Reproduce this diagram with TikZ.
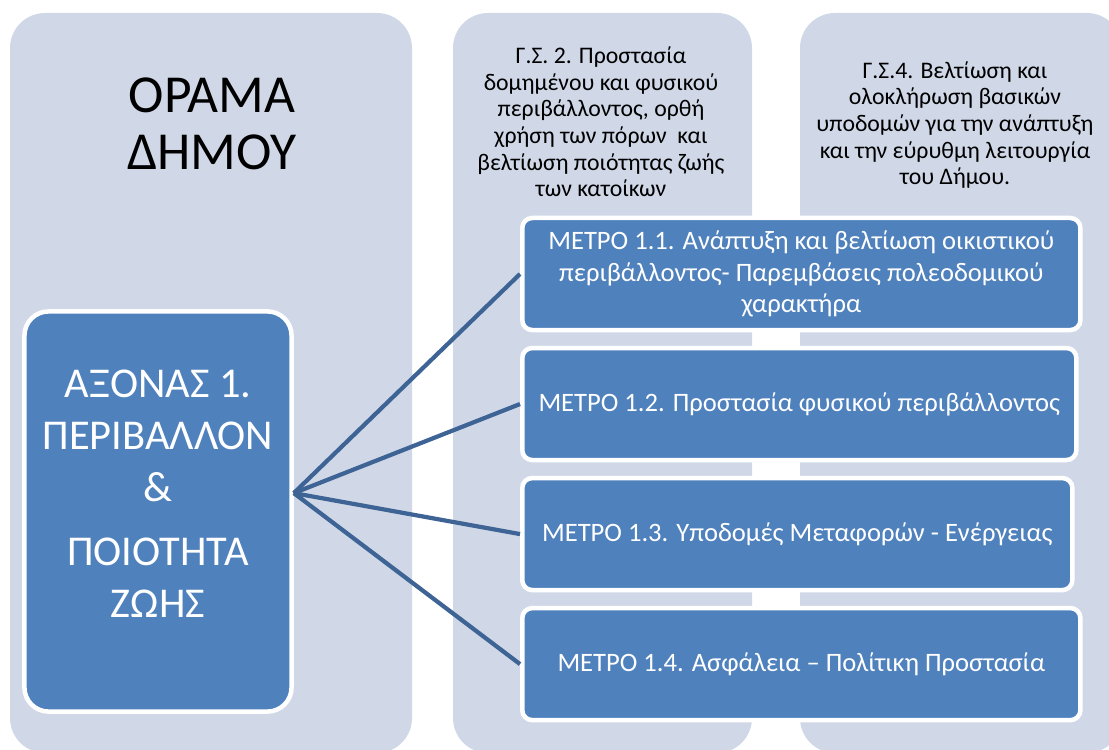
\documentclass[tikz,border=0pt]{standalone}
\usepackage{fontspec}
\setmainfont{Carlito}
\usetikzlibrary{positioning}
\definecolor{panelfill}{RGB}{208,216,232}
\definecolor{boxfill}{RGB}{79,129,189}
\definecolor{linkblue}{RGB}{62,100,150}
\tikzstyle{panel} = [fill=panelfill, rounded corners=0.875cm]
\tikzstyle{heading} = [align=center, text=black, font=\fontsize{16.9}{18.9}\selectfont]
\tikzstyle{axisbox} = [rectangle, rounded corners=0.6cm, minimum width=6.675cm, minimum height=10cm, align=center, draw=white, line width=3.2pt, fill=boxfill, text=white, font=\fontsize{30.2}{37}\selectfont]
\tikzstyle{measure} = [rectangle, rounded corners=0.25cm, minimum width=13.95cm, minimum height=2.8cm, align=center, draw=white, line width=3.2pt, fill=boxfill, text=white, font=\fontsize{18.9}{22.3}\selectfont]
\tikzstyle{link} = [line width=3pt, draw=linkblue]
\def\ttx{3.25}

\begin{document}
\begin{tikzpicture}[x=0.025cm, y=-0.025cm, node distance=\ttx cm]
\useasboundingbox (0,0) rectangle (1109,749);

% background columns
\fill [panel] (10,13) rectangle (412,753);
\fill [panel] (453,13) rectangle (752,753);
\fill [panel] (800,13) rectangle (1122,753);

\node (vision) [heading, font=\fontsize{38}{41}\selectfont] at (212,124) {ΟΡΑΜΑ\\ΔΗΜΟΥ};
\node (gs2) [heading] at (601,122) {Γ.Σ. 2. Προστασία\\δομημένου και φυσικού\\περιβάλλοντος, ορθή\\χρήση των πόρων~ και\\βελτίωση ποιότητας ζωής\\των κατοίκων};
\node (gs4) [heading] at (955,125) {Γ.Σ.4. Βελτίωση και\\ολοκλήρωση βασικών\\υποδομών για την ανάπτυξη\\και την εύρυθμη λειτουργία\\του Δήμου.};

\node (axis) [axisbox] at (158,511.5) {ΑΞΟΝΑΣ 1.\\ΠΕΡΙΒΑΛΛΟΝ\\\&\\[0.3cm]ΠΟΙΟΤΗΤΑ\\ΖΩΗΣ\\[-12pt]~};
\coordinate (hub) at ([yshift=0.46cm]axis.east);

\node (m1) [measure, anchor=west] at (520,274) {ΜΕΤΡΟ 1.1. Ανάπτυξη και βελτίωση οικιστικού\\περιβάλλοντος- Παρεμβάσεις πολεοδομικού\\χαρακτήρα};
\node (m2) [measure, below of=m1, minimum width=13.85cm, xshift=-0.05cm] {ΜΕΤΡΟ 1.2. Προστασία φυσικού περιβάλλοντος};
\node (m3) [measure, below of=m1, yshift=-\ttx cm, minimum width=13.75cm, xshift=-0.1cm] {ΜΕΤΡΟ 1.3. Υποδομές Μεταφορών - Ενέργειας};
\node (m4) [measure, below of=m1, yshift=-2*\ttx cm] {ΜΕΤΡΟ 1.4. Ασφάλεια – Πολίτικη Προστασία};

\foreach \m in {m1,m2,m3,m4}
  \draw [link] (hub) -- (\m.west);

\end{tikzpicture}
\end{document}
